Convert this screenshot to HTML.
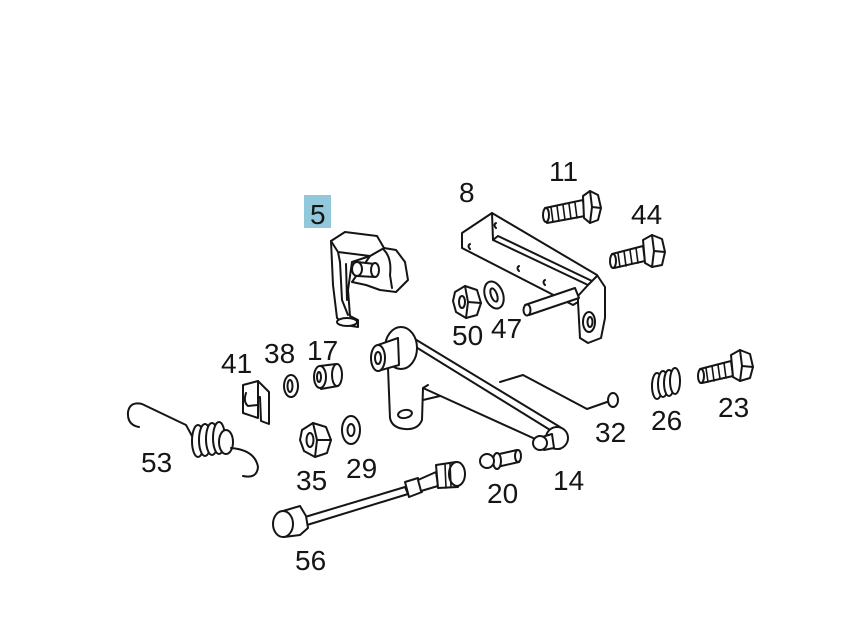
<!DOCTYPE html>
<html><head><meta charset="utf-8"><style>
html,body{margin:0;padding:0;background:#fff;}
svg{display:block;}
text{font-family:"Liberation Sans",sans-serif;font-size:28px;fill:#151515;}
.p{fill:#fff;stroke:#151515;stroke-width:2;stroke-linejoin:round;stroke-linecap:round;}
.l{fill:none;stroke:#151515;stroke-width:2;stroke-linejoin:round;stroke-linecap:round;}
.t{fill:none;stroke:#151515;stroke-width:1.6;stroke-linecap:round;}
</style></head><body>
<svg width="841" height="639" viewBox="0 0 841 639" xmlns="http://www.w3.org/2000/svg">
<rect width="841" height="639" fill="#fff"/>

<!-- Part 5 -->
<rect x="304" y="195" width="27" height="33" fill="#92c8dc"/>
<text x="310" y="224">5</text>
<g>
<path class="p" d="M370,256 L384,248 L396,250 L405,262 L408,280 L396,292 L380,290 L366,285 L352,282 Z"/>
<path class="p" d="M331,241 L333,285 L337,318 L345,325 L358,327 L358,320 L350,316 L348,290 L352,262 L370,256 L384,248 L377,236 L345,232 Z"/>
<path class="l" d="M331,241 L338,252 L370,256 M338,252 L340,262"/>
<path class="l" d="M340,262 L342,300 L348,315 M346,264 L347,300"/>
<ellipse class="p" cx="347" cy="322" rx="10" ry="4"/>
<path class="p" d="M357,262 L375,264 L375,277 L357,276 Z"/>
<ellipse class="p" cx="357" cy="269" rx="5" ry="7"/>
<ellipse class="p" cx="375" cy="270" rx="4" ry="7"/>
<path class="l" d="M384,250 Q392,258 390,275 L392,288"/>
</g>

<!-- Bracket 8 -->
<text x="459" y="202">8</text>
<g>
<path class="p" d="M462,233 L492,213 L597,275 L605,287 L605,318 L601,338 L588,343 L580,338 L578,302 L573,305 L462,248 Z"/>
<path class="l" d="M492,213 L493,240 L588,285 L597,276 M493,240 L498,236 L592,281"/>
<path class="l" d="M578,302 L578,296 L588,285"/>
<path class="l" d="M470,244 q-3,2 0,5 M496,223 q-3,2 0,5 M519,266 q-3,2 0,5 M545,280 q-3,2 0,5"/>
<ellipse class="p" cx="589" cy="322" rx="6" ry="10"/>
<ellipse class="l" cx="590" cy="322" rx="2.5" ry="5"/>
<path class="p" d="M525,305 L575,288 L579,298 L529,315 Z"/>
<ellipse class="p" cx="527" cy="310" rx="3.5" ry="5.5"/>
</g>

<!-- Bolt 11 -->
<text x="549" y="181">11</text>
<g>
<path class="p" d="M545,208 L583,200 L585,216 L547,223 Z"/>
<path class="t" d="M551,207 L553,222 M557,206 L559,221 M563,205 L565,220 M569,204 L571,219 M575,203 L577,218"/>
<ellipse class="p" cx="546" cy="215" rx="3" ry="7"/>
<path class="p" d="M583,196 L590,191 L598,195 L601,208 L598,220 L590,223 L584,218 Z"/>
<path class="l" d="M590,191 L592,207 L590,223 M592,207 L601,208"/>
</g>

<!-- Bolt 44 -->
<text x="631" y="224">44</text>
<g>
<path class="p" d="M612,254 L643,246 L645,261 L614,268 Z"/>
<path class="t" d="M618,253 L620,267 M624,251 L626,266 M630,250 L632,264 M636,248 L638,263"/>
<ellipse class="p" cx="613" cy="261" rx="3" ry="7"/>
<path class="p" d="M643,240 L652,235 L662,239 L665,252 L662,265 L652,267 L645,263 Z"/>
<path class="l" d="M652,235 L654,251 L652,267 M654,251 L665,252"/>
</g>

<!-- Nut 50, washer 47 -->
<text x="452" y="345">50</text>
<text x="491" y="338">47</text>
<path class="p" d="M455,292 L465,286 L477,290 L481,303 L477,315 L466,318 L456,312 L453,301 Z"/>
<path class="l" d="M465,286 L468,302 L466,318 M468,302 L481,303"/>
<ellipse class="l" cx="462" cy="302" rx="3" ry="6"/>
<ellipse class="p" cx="494" cy="295" rx="9" ry="14" transform="rotate(-20 494 295)"/>
<ellipse class="l" cx="494" cy="295" rx="3" ry="7" transform="rotate(-20 494 295)"/>

<!-- Lever 14 -->
<g>
<path class="p" d="M400,330 L560,427 L568,438 L560,449 L548,447 L533,438 L423,388 L422,420 Q418,430 405,429 Q392,428 390,418 L388,368 Z"/>
<path class="l" d="M398,336 L555,433"/>
<circle class="p" cx="557" cy="438" r="11"/>
<path class="l" d="M423,388 L428,385 M423,400 L440,396"/>
<ellipse class="p" cx="405" cy="414" rx="7" ry="4" transform="rotate(-10 405 414)"/>
<ellipse class="p" cx="401" cy="348" rx="16" ry="21"/>
<path class="p" d="M378,345 L398,338 L399,365 L378,371 Z"/>
<ellipse class="p" cx="378" cy="358" rx="7" ry="13"/>
<ellipse class="l" cx="378" cy="358" rx="3" ry="6"/>
<path class="p" d="M542,437 L552,434 L554,448 L544,450 Z"/>
<circle class="p" cx="540" cy="443" r="7"/>
</g>
<text x="553" y="490">14</text>

<!-- Link 32 -->
<path class="l" d="M500,382 L523,375 L587,409 L607,402"/>
<ellipse class="p" cx="613" cy="400" rx="5" ry="7"/>
<text x="595" y="442">32</text>

<!-- Spring 26 -->
<g>
<ellipse class="p" cx="657" cy="386" rx="5" ry="13"/>
<ellipse class="p" cx="663" cy="384" rx="5" ry="13"/>
<ellipse class="p" cx="669" cy="383" rx="5" ry="13"/>
<ellipse class="p" cx="675" cy="381" rx="5" ry="13"/>
</g>
<text x="651" y="430">26</text>

<!-- Bolt 23 -->
<g>
<path class="p" d="M700,369 L731,361 L733,376 L702,383 Z"/>
<path class="t" d="M706,368 L708,382 M712,366 L714,381 M718,365 L720,379 M724,363 L726,378"/>
<ellipse class="p" cx="701" cy="376" rx="3" ry="7"/>
<path class="p" d="M731,355 L740,350 L750,354 L753,367 L750,378 L740,381 L733,377 Z"/>
<path class="l" d="M740,350 L742,366 L740,381 M742,366 L753,367"/>
</g>
<text x="718" y="417">23</text>

<!-- Part 20 -->
<g>
<path class="p" d="M495,455 L517,450 L519,462 L497,467 Z"/>
<ellipse class="p" cx="518" cy="456" rx="3" ry="6"/>
<ellipse class="p" cx="497" cy="461" rx="4" ry="8"/>
<circle class="p" cx="487" cy="461" r="7"/>
</g>
<text x="487" y="503">20</text>

<!-- Cable 56 -->
<g>
<path class="p" d="M305,517 L405,487 L408,494 L307,525 Z"/>
<path class="p" d="M405,482 L418,478 L422,492 L409,497 Z"/>
<path class="p" d="M418,480 L436,472 L438,486 L421,491 Z"/>
<path class="p" d="M436,465 L456,462 L458,487 L438,488 Z"/>
<ellipse class="p" cx="457" cy="474" rx="8" ry="12"/>
<path class="t" d="M445,464 L446,488 M450,463 L451,487"/>
<path class="p" d="M283,511 L300,506 L306,516 L308,528 L300,535 L284,537 Z"/>
<ellipse class="p" cx="283" cy="524" rx="10" ry="13"/>
</g>
<text x="295" y="570">56</text>

<!-- Spring 53 -->
<g>
<path class="l" d="M139,427 Q127,425 128,412 Q130,401 142,404 L186,425 Q190,432 194,440"/>
<ellipse class="p" cx="198" cy="441" rx="6" ry="16"/>
<ellipse class="p" cx="205" cy="440" rx="6" ry="16"/>
<ellipse class="p" cx="212" cy="439" rx="6" ry="16"/>
<ellipse class="p" cx="219" cy="438" rx="6" ry="16"/>
<ellipse class="p" cx="226" cy="442" rx="7" ry="12"/>
<path class="l" d="M231,448 Q255,450 258,467 Q257,479 243,476"/>
</g>
<text x="141" y="472">53</text>

<!-- Clip 41 -->
<g>
<path class="p" d="M243,385 L258,381 L269,392 L269,424 L261,421 L260,397 L258,397 L258,418 L243,413 Z"/>
<path class="l" d="M258,381 L258,397 M246,393 Q243,402 248,406 L258,405"/>
</g>
<text x="221" y="373">41</text>

<!-- Washer 38, bushing 17 -->
<ellipse class="p" cx="291" cy="386" rx="7" ry="11"/>
<ellipse class="l" cx="290" cy="386" rx="2.5" ry="6"/>
<text x="264" y="363">38</text>
<g>
<path class="p" d="M320,366 L336,364 L338,386 L321,389 Z"/>
<ellipse class="p" cx="337" cy="375" rx="5" ry="11"/>
<ellipse class="p" cx="320" cy="377" rx="6" ry="11"/>
<ellipse class="l" cx="319" cy="377" rx="2" ry="5"/>
</g>
<text x="307" y="360">17</text>

<!-- Nut 35, washer 29 -->
<path class="p" d="M302,430 L313,423 L326,427 L331,440 L327,453 L315,457 L304,451 L300,440 Z"/>
<path class="l" d="M313,423 L317,440 L315,457 M317,440 L331,440"/>
<ellipse class="l" cx="310" cy="440" rx="3.5" ry="7"/>
<text x="296" y="490">35</text>
<ellipse class="p" cx="351" cy="430" rx="9" ry="14"/>
<ellipse class="l" cx="351" cy="430" rx="3.5" ry="6"/>
<text x="346" y="478">29</text>

</svg>
</body></html>
